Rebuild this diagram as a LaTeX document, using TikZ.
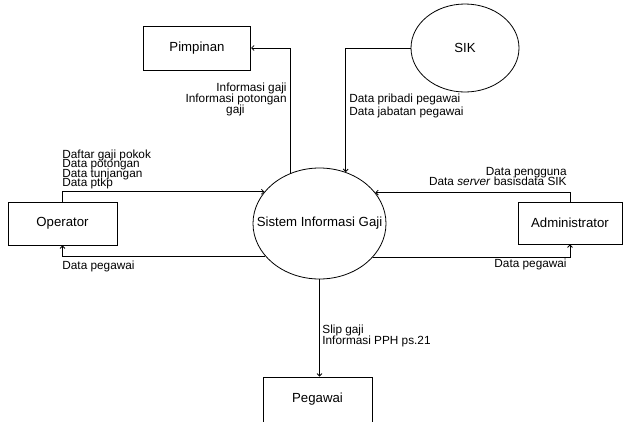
\documentclass[tikz,border=0pt]{standalone}
\usepackage{fontspec}
\setmainfont{Liberation Sans}
\usetikzlibrary{arrows.meta,shapes.geometric}
\newcommand\tightlines[1]{\fontsize{11.8}{#1}\selectfont\lineskiplimit=-20pt\relax\lineskip=0pt\relax}
\begin{document}
\begin{tikzpicture}[x=1pt,y=-1pt,
  line width=0.8pt,
  entity/.style={draw, rectangle, inner sep=0pt, font=\fontsize{13.2}{15}\selectfont},
  process/.style={draw, ellipse, inner sep=0pt, font=\fontsize{13.2}{15}\selectfont},
  flow/.style={-{Straight Barb[length=2.5pt,width=5pt]}},
  lbl/.style={inner sep=0pt, font=\tightlines{#1}},
]
\useasboundingbox (0,0) rectangle (623,421);

% external entities and processes
\node[entity, minimum width=107.4pt, minimum height=44pt] (pim) at (197,48) {Pimpinan};
\node[process, minimum width=108pt, minimum height=88pt] (sik) at (465,48) {\makebox[0pt]{SIK}};
\node[process, minimum width=133pt, minimum height=111pt] (main) at (319.5,223.5) {\makebox[0pt]{Sistem Informasi Gaji}};
\node[entity, minimum width=109pt, minimum height=43pt] (op) at (62.5,223.5) {Operator};
\node[entity, minimum width=104pt, minimum height=42pt] (adm) at (570,223) {Administrator};
\node[entity, minimum width=109pt, minimum height=45pt] (peg) at (317.5,399.5) {Pegawai};

% data flows
\draw[flow] (main.120.7) |- (pim.east);
\draw[flow] (sik.west) -| (main.63.6);
\draw[flow] (op.north) |- (main.150.1);
\draw[flow] (main.211.1) -| (op.south);
\draw[flow] (adm.north) |- (main.29.9);
\draw[flow] (main.328.9) -| (adm.south);
\draw[flow] (main.south) -- (main.south |- peg.north);

% flow labels
\node[lbl=11, anchor=north east, align=right] (lpim) at (287,82.4)
  {Informasi gaji\\Informasi potongan\\gaji\hspace*{42pt}};
\node[lbl=12.7, anchor=north west, align=left] (lsik) at (349,93.7)
  {Data pribadi pegawai\\Data jabatan pegawai};
\node[lbl=9.6, anchor=north west, align=left] (lopin) at (62,149.2)
  {Daftar gaji pokok\\Data potongan\\Data tunjangan\\Data ptkp};
\node[lbl=10, anchor=base west] (lopout) at (62,269.3) {Data pegawai};
\node[lbl=10.3, anchor=north east, align=right] (ladmin) at (567,167.1)
  {Data pengguna\\Data \textit{server} basisdata SIK};
\node[lbl=10, anchor=base east] (ladmout) at (567,267.3) {Data pegawai};
\node[lbl=11, anchor=north west, align=left] (lpeg) at (322,324.4)
  {Slip gaji\\Informasi PPH ps.21};
\end{tikzpicture}
\end{document}
